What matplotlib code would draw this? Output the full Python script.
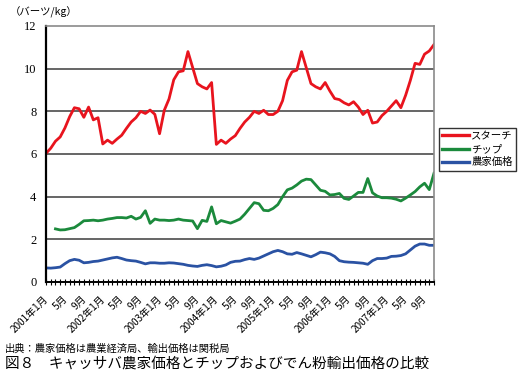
import matplotlib
matplotlib.use("Agg")
import matplotlib.pyplot as plt
import matplotlib.transforms as mtransforms
import numpy as np

plt.rcParams['font.family'] = ['Noto Sans CJK JP', 'DejaVu Sans']

# Monthly data, Jan 2001 - Nov 2007
starch = [6.03, 6.27, 6.6, 6.8, 7.22, 7.75, 8.17, 8.12, 7.72, 8.2, 7.6, 7.7,
          6.47, 6.65, 6.5, 6.7, 6.88, 7.2, 7.5, 7.7, 8.0, 7.9, 8.06, 7.86,
          6.95, 8.05, 8.58, 9.48, 9.85, 9.9, 10.8, 10.05, 9.3, 9.15, 9.05, 9.35,
          6.45, 6.65, 6.5, 6.7, 6.86, 7.2, 7.5, 7.72, 8.0, 7.9, 8.05, 7.85,
          7.85, 8.0, 8.5, 9.45, 9.85, 9.93, 10.8, 10.05, 9.3, 9.15, 9.05, 9.35,
          8.95, 8.6, 8.55, 8.4, 8.3, 8.45, 8.2, 7.85, 8.05, 7.45, 7.5, 7.8,
          8.0, 8.25, 8.5, 8.17, 8.75, 9.45, 10.25, 10.2, 10.68, 10.83, 11.13]
chip = [np.nan, np.nan, 2.49, 2.44, 2.45, 2.5, 2.55, 2.7, 2.87, 2.88, 2.9, 2.87,
        2.9, 2.95, 2.98, 3.02, 3.02, 3.0, 3.08, 2.95, 3.03, 3.34, 2.75, 2.95,
        2.9, 2.9, 2.88, 2.9, 2.95, 2.9, 2.88, 2.86, 2.5, 2.89, 2.84, 3.52,
        2.73, 2.88, 2.82, 2.76, 2.85, 2.95, 3.18, 3.45, 3.72, 3.67, 3.36, 3.34,
        3.45, 3.63, 4.0, 4.32, 4.4, 4.55, 4.73, 4.82, 4.8, 4.55, 4.3, 4.25,
        4.08, 4.1, 4.15, 3.92, 3.87, 4.03, 4.2, 4.2, 4.85, 4.18, 4.03, 3.95,
        3.95, 3.93, 3.88, 3.8, 3.93, 4.08, 4.24, 4.46, 4.63, 4.33, 5.1]
farm = [0.66, 0.65, 0.67, 0.7, 0.86, 1.0, 1.06, 1.02, 0.9, 0.92, 0.96, 0.98,
        1.03, 1.08, 1.13, 1.16, 1.1, 1.03, 1.0, 0.98, 0.92, 0.85, 0.9, 0.9,
        0.88, 0.88, 0.9, 0.89, 0.86, 0.83, 0.78, 0.75, 0.73, 0.78, 0.81, 0.77,
        0.71, 0.74, 0.8, 0.92, 0.97, 0.98, 1.05, 1.1, 1.06, 1.12, 1.22, 1.32,
        1.42, 1.48, 1.42, 1.32, 1.3, 1.38, 1.32, 1.25, 1.18, 1.28, 1.4, 1.37,
        1.32, 1.2, 1.0, 0.95, 0.93, 0.92, 0.9, 0.88, 0.83, 1.0, 1.1, 1.1,
        1.12, 1.2, 1.21, 1.24, 1.32, 1.5, 1.68, 1.78, 1.78, 1.72, 1.72]
series_names = ['スターチ', 'チップ', '農家価格']
series_colors = ['#E8141E', '#1B8A3C', '#2A52A3']
start_year = 2001
n_months = len(starch)
label_months = list(range(0, n_months, 4))
tick_labels = [f"{start_year + m // 12}年1月" if m % 12 == 0 else f"{m % 12 + 1}月"
               for m in label_months]
y_ticks = [0, 2, 4, 6, 8, 10, 12]

fig = plt.figure(figsize=(5.25, 3.73), dpi=100)
ax = fig.add_axes([46/525, 1-282/373, (434-46)/525, (282-26)/373])

x = np.arange(n_months)
for vals, name, col in zip([starch, chip, farm], series_names, series_colors):
    ax.plot(x, vals, color=col, lw=2.0, label=name, solid_joinstyle='round')

ax.set_xlim(0, n_months - 1)
ax.set_ylim(0, 12)
ax.set_yticks(y_ticks)
ax.set_yticklabels([str(v) for v in y_ticks], family='Liberation Serif', fontsize=9)
ax.tick_params(axis='y', length=0, pad=7)
for v in y_ticks[1:-1]:
    ax.axhline(v, color='#3c3c3c', lw=1.1, zorder=0)

ax.set_xticks(label_months)
ax.set_xticklabels(tick_labels, rotation=45, ha='right', va='top',
                   rotation_mode='anchor', fontsize=7.2)
ax.set_xticks(x, minor=True)
ax.tick_params(axis='x', which='both', direction='inout', length=4, width=0.8, pad=5)
offset = mtransforms.ScaledTranslation(-3/100, -2/100, fig.dpi_scale_trans)
for lab in ax.get_xticklabels():
    lab.set_transform(lab.get_transform() + offset)

for s in ['top', 'right']:
    ax.spines[s].set_color('#8a8a8a')
    ax.spines[s].set_linewidth(1.2)
ax.spines['left'].set_color('black')
ax.spines['left'].set_linewidth(1.6)
ax.spines['bottom'].set_color('black')
ax.spines['bottom'].set_linewidth(1.4)

fig.text(10/525, 1-12/373, '（バーツ/kg）', fontsize=7.5, va='center', ha='left')

leg = fig.legend(loc='upper left', bbox_to_anchor=(439/525, 1-128/373), fontsize=7.5,
                 frameon=True, fancybox=False, edgecolor='black', handlelength=2.6,
                 handletextpad=0.2, borderpad=0.3, labelspacing=0.3, borderaxespad=0)
leg.get_frame().set_linewidth(1.0)
for h in leg.get_lines():
    h.set_linewidth(2.4)

fig.text(5/525, 1-349/373, '出典：農家価格は農業経済局、輸出価格は関税局', fontsize=7.4,
         va='center', ha='left')
fig.text(5/525, 1-364/373, '図８　キャッサバ農家価格とチップおよびでん粉輸出価格の比較',
         fontsize=10.5, va='center', ha='left')

fig.savefig('out.png', dpi=100)
